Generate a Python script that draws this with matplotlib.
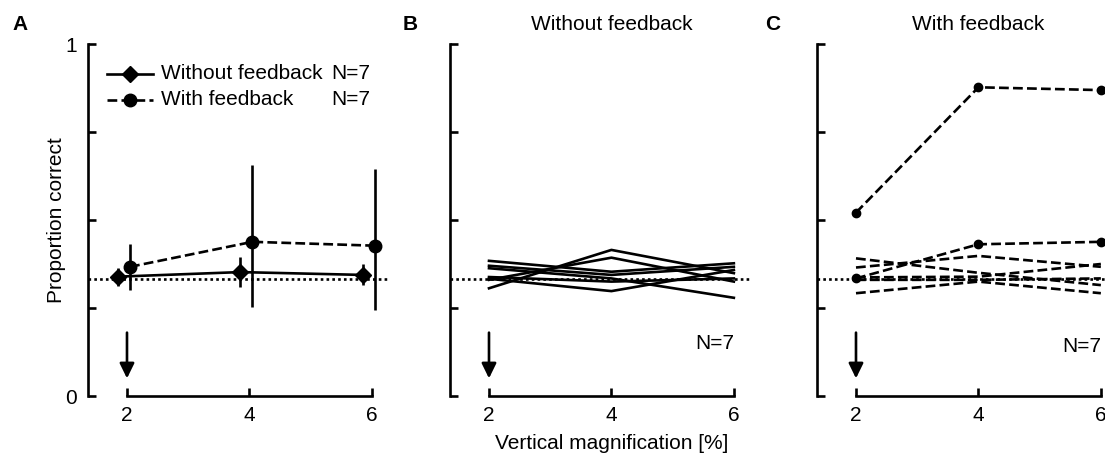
import numpy as np
import matplotlib
matplotlib.use("Agg")
import matplotlib.pyplot as plt
import matplotlib.transforms as mtransforms

plt.rcParams['font.family'] = ['Liberation Sans', 'DejaVu Sans']
FS = 15

# ---------------- data ----------------
magnification = [2, 4, 6]
chance = 1 / 3

# Panel A: group means with error bars
without_mean = [0.339, 0.352, 0.344]
without_err = [0.026, 0.042, 0.030]
with_mean = [0.367, 0.438, 0.427]
with_err_lo = [0.066, 0.184, 0.184]
with_err_hi = [0.065, 0.218, 0.217]

# Panel B: individual subjects, without feedback
without_subjects = [
    [0.384, 0.353, 0.377],
    [0.370, 0.344, 0.367],
    [0.363, 0.334, 0.279],
    [0.306, 0.415, 0.349],
    [0.330, 0.393, 0.325],
    [0.333, 0.298, 0.358],
    [0.338, 0.325, 0.334],
]

# Panel C: individual subjects, with feedback (first two marked)
with_subjects = [
    [0.521, 0.877, 0.869],
    [0.334, 0.431, 0.438],
    [0.391, 0.350, 0.315],
    [0.365, 0.398, 0.367],
    [0.337, 0.339, 0.375],
    [0.330, 0.330, 0.334],
    [0.292, 0.325, 0.292],
]
with_marked = [True, True, False, False, False, False, False]

yticks = [0, 0.25, 0.5, 0.75, 1]
yticklabels = ['0', '', '', '', '1']
xticks = [2, 4, 6]
xlabel = 'Vertical magnification [%]'
ylabel = 'Proportion correct'
titles = ['', 'Without feedback', 'With feedback']
letters = ['A', 'B', 'C']
n_label = 'N=7'

# ---------------- layout ----------------
W, H = 1105, 454
fig = plt.figure(figsize=(W / 100, H / 100), dpi=100)

ax_left_px = [88, 450, 817]
ax_w_px = 301
ax_bottom_px = 396
ax_h_px = 352
XLIM = (1.363, 6.28)
LW = 1.9

axes = []
for lpx in ax_left_px:
    ax = fig.add_axes([lpx / W, (H - ax_bottom_px) / H, ax_w_px / W, ax_h_px / H])
    ax.set_xlim(*XLIM)
    ax.set_ylim(0, 1)
    for s in ['top', 'right']:
        ax.spines[s].set_visible(False)
    ax.spines['left'].set_bounds(0, 1)
    ax.spines['bottom'].set_bounds(2, 6)
    for s in ['left', 'bottom']:
        ax.spines[s].set_linewidth(LW)
    ax.set_xticks(xticks)
    ax.set_yticks(yticks)
    ax.tick_params(direction='in', length=6, width=LW, labelsize=FS)
    ax.tick_params(axis='x', pad=7)
    ax.tick_params(axis='y', pad=8)
    ax.axhline(chance, ls=(0, (1, 1.2)), color='k', lw=LW, zorder=1)
    ax.annotate('', xy=(2, 0.05), xytext=(2, 0.18),
                arrowprops=dict(arrowstyle='-|>,head_length=0.45,head_width=0.22',
                                lw=LW, color='k',
                                mutation_scale=20, shrinkA=0, shrinkB=0))
    axes.append(ax)

axA, axB, axC = axes
axA.set_yticklabels(yticklabels)
axB.set_yticklabels([])
axC.set_yticklabels([])

# ---------------- Panel A ----------------
x = np.array(magnification, dtype=float)
axA.errorbar(x - 0.15, without_mean, yerr=without_err, fmt='-', color='k',
             lw=LW, elinewidth=LW, capsize=0, marker='D', ms=8, zorder=3)
axA.errorbar(x + 0.05, with_mean, yerr=[with_err_lo, with_err_hi], fmt='--',
             color='k', lw=LW, elinewidth=LW, capsize=0, marker='o', ms=9,
             zorder=3)

# legend drawn manually
ta = axA.transAxes
axA.plot([0.063, 0.216], [0.915, 0.915], transform=ta, color='k', lw=LW, clip_on=False)
axA.plot([0.14], [0.915], transform=ta, color='k', marker='D', ms=8, clip_on=False)
axA.plot([0.063, 0.216], [0.841, 0.841], transform=ta, color='k', lw=LW, ls='--', clip_on=False)
axA.plot([0.14], [0.841], transform=ta, color='k', marker='o', ms=9, clip_on=False)
axA.text(0.2425, 0.915, 'Without feedback', transform=ta, fontsize=FS, va='center', ha='left')
axA.text(0.2425, 0.841, 'With feedback', transform=ta, fontsize=FS, va='center', ha='left')
axA.text(0.807, 0.915, n_label, transform=ta, fontsize=FS, va='center', ha='left')
axA.text(0.807, 0.841, n_label, transform=ta, fontsize=FS, va='center', ha='left')

axA.set_ylabel(ylabel, fontsize=FS)
axA.yaxis.set_label_coords(-0.073, 0.5)

# ---------------- Panel B ----------------
for vals in without_subjects:
    axB.plot(magnification, vals, '-', color='k', lw=LW, zorder=2)
axB.text(6, 0.15, n_label, fontsize=FS, ha='right', va='center')
axB.set_xlabel(xlabel, fontsize=FS)
axB.xaxis.set_label_coords(0.538, -0.108)

# ---------------- Panel C ----------------
for vals, mk in zip(with_subjects, with_marked):
    axC.plot(magnification, vals, '--', color='k', lw=LW,
             marker='o' if mk else None, ms=6, zorder=2)
axC.text(6, 0.14, n_label, fontsize=FS, ha='right', va='center')

# ---------------- titles & letters ----------------
for ax, t in zip(axes, titles):
    if t:
        tr = mtransforms.blended_transform_factory(ax.transData, ax.transAxes)
        ax.text(4, 1.054, t, transform=tr, fontsize=FS, ha='center', va='center')

letter_x_px = [20, 410, 773]
for lx, L in zip(letter_x_px, letters):
    fig.text(lx / W, 1 - 25 / H, L, fontsize=FS, fontweight='bold', ha='center', va='center')

fig.savefig('out.png', dpi=100)
